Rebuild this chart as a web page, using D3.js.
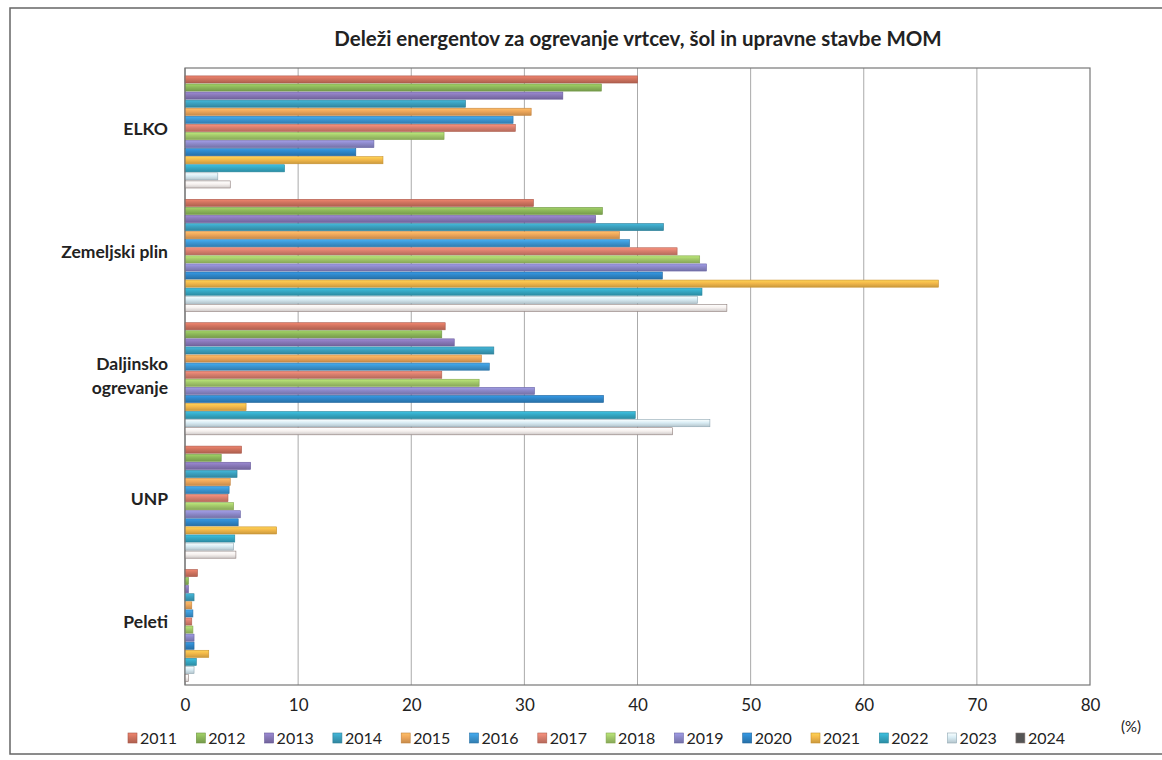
<!DOCTYPE html>
<html>
<head>
<meta charset="utf-8">
<script src="https://cdn.jsdelivr.net/npm/d3@7"></script>
<style>
  body { margin: 0; background: #fff; }
  text { font-family: Lato, "Open Sans", sans-serif; fill: #222; }
</style>
</head>
<body>
<div id="chart"></div>
<script>
// chart size and plot margins
const width = 1162;
const height = 760;
const margin = {left: 185, right: 72, top: 68, bottom: 75};

// data
const categories = ["ELKO", "Zemeljski plin", "Daljinsko ogrevanje", "UNP", "Peleti"];
const years = ["2011","2012","2013","2014","2015","2016","2017","2018","2019","2020","2021","2022","2023","2024"];
const elko      = [40.0, 36.8, 33.4, 24.8, 30.6, 29.0, 29.2, 22.9, 16.7, 15.1, 17.5, 8.8, 2.9, 4.0];
const plin      = [30.8, 36.9, 36.3, 42.3, 38.4, 39.3, 43.5, 45.5, 46.1, 42.2, 66.6, 45.7, 45.3, 47.9];
const daljinsko = [23.0, 22.7, 23.8, 27.3, 26.2, 26.9, 22.7, 26.0, 30.9, 37.0, 5.4, 39.8, 46.4, 43.1];
const unp       = [5.0, 3.2, 5.8, 4.6, 4.0, 3.9, 3.8, 4.3, 4.9, 4.7, 8.1, 4.4, 4.3, 4.5];
const peleti    = [1.1, 0.3, 0.3, 0.8, 0.6, 0.7, 0.6, 0.7, 0.8, 0.8, 2.1, 1.0, 0.8, 0.3];
const xTicks = [0, 10, 20, 30, 40, 50, 60, 70, 80];

const seriesByCat = [elko, plin, daljinsko, unp, peleti];

// colours per year (fill, outline)
const colors = ["#D0735F","#8DB85A","#8878B8","#3BA0BE","#EDA65A","#3C96D2","#D97F6E",
                "#A3C96A","#8C88C8","#2F86C8","#F2B84A","#35A8C4","#D8ECF4","#F7F2F0"];
const strokes = ["#A9574A","#6E9543","#67599A","#2C7F98","#C4823C","#2B74A8","#B0604F",
                 "#82A54C","#6A66A6","#22669E","#C8912E","#26869C","#8FA7B3","#8D7D7A"];

const svg = d3.select("#chart")
  .append("svg")
  .attr("width", width)
  .attr("height", height);

// outer frame
svg.append("rect")
  .attr("x", 10).attr("y", 8)
  .attr("width", width).attr("height", 746)
  .attr("fill", "none")
  .attr("stroke", "#666")
  .attr("stroke-width", 1.5);

// title
svg.append("text")
  .attr("x", 638).attr("y", 46)
  .attr("text-anchor", "middle")
  .attr("font-size", "20.5px")
  .attr("font-weight", "bold")
  .text("Deleži energentov za ogrevanje vrtcev, šol in upravne stavbe MOM");

// scales
const xScale = d3.scaleLinear()
  .domain([0, 80])
  .range([margin.left, width - margin.right]);

const yScale = d3.scaleBand()
  .domain(categories)
  .range([margin.top, height - margin.bottom]);

const yInner = d3.scaleBand()
  .domain(years)
  .range([0, yScale.bandwidth()])
  .paddingInner(0.12)
  .paddingOuter(0.7)
  .align(0.7);

// gradients for a slightly rounded bar look
const defs = svg.append("defs");
colors.forEach((c, i) => {
  const g = defs.append("linearGradient")
    .attr("id", "grad" + i)
    .attr("x1", 0).attr("y1", 0).attr("x2", 0).attr("y2", 1);
  g.append("stop").attr("offset", "0%").attr("stop-color", d3.color(c).brighter(0.4));
  g.append("stop").attr("offset", "45%").attr("stop-color", c);
  g.append("stop").attr("offset", "100%").attr("stop-color", d3.color(c).darker(0.5));
});

// gridlines
svg.append("g")
  .selectAll("line")
  .data(xTicks.slice(1, -1))
  .enter()
  .append("line")
    .attr("x1", d => xScale(d)).attr("x2", d => xScale(d))
    .attr("y1", margin.top).attr("y2", height - margin.bottom)
    .attr("stroke", "#aaa")
    .attr("stroke-width", 1);

// plot border
svg.append("rect")
  .attr("x", margin.left).attr("y", margin.top)
  .attr("width", xScale(80) - margin.left)
  .attr("height", height - margin.bottom - margin.top)
  .attr("fill", "none")
  .attr("stroke", "#777")
  .attr("stroke-width", 1.2);

// bars
const groups = svg.selectAll(".cat")
  .data(categories)
  .enter()
  .append("g")
    .attr("class", "cat")
    .attr("transform", d => `translate(0, ${yScale(d)})`);

groups.selectAll("rect")
  .data((d, ci) => seriesByCat[ci].map((v, i) => ({year: years[i], value: v, i: i})))
  .enter()
  .append("rect")
    .attr("x", xScale(0))
    .attr("y", d => yInner(d.year))
    .attr("width", d => xScale(d.value) - xScale(0))
    .attr("height", yInner.bandwidth())
    .attr("fill", d => `url(#grad${d.i})`)
    .attr("stroke", d => strokes[d.i])
    .attr("stroke-width", 0.6);

// y-axis line
svg.append("line")
  .attr("x1", margin.left).attr("x2", margin.left)
  .attr("y1", margin.top).attr("y2", height - margin.bottom)
  .attr("stroke", "#777");

// category labels
const labels = svg.append("g");
categories.forEach(c => {
  const yc = yScale(c) + yScale.bandwidth() / 2;
  const words = c === "Daljinsko ogrevanje" ? ["Daljinsko", "ogrevanje"] : [c];
  words.forEach((w, k) => {
    labels.append("text")
      .attr("x", 168)
      .attr("y", yc + 5 + (k - (words.length - 1) / 2) * 24)
      .attr("text-anchor", "end")
      .attr("font-size", "17.5px")
      .attr("font-weight", "bold")
      .text(w);
  });
});

// x axis ticks
svg.append("g")
  .attr("transform", `translate(0, ${height - margin.bottom})`)
  .call(d3.axisBottom(xScale).tickValues(xTicks).tickSize(0).tickPadding(14))
  .call(g => g.select(".domain").remove())
  .selectAll("text")
    .attr("font-size", "17px")
    .style("font-family", "Lato, 'Open Sans', sans-serif")
    .attr("fill", "#222");

// unit label
svg.append("text")
  .attr("x", 1131).attr("y", 732)
  .attr("text-anchor", "middle")
  .attr("font-size", "15px")
  .text("(%)");

// legend
const legend = svg.append("g")
  .attr("transform", "translate(128, 744)");

const item = legend.selectAll("g")
  .data(years)
  .enter()
  .append("g")
    .attr("transform", (d, i) => `translate(${i * 68.3}, 0)`);

item.append("rect")
  .attr("x", 0).attr("y", -11)
  .attr("width", 9).attr("height", 10)
  .attr("fill", (d, i) => i === 13 ? "#555" : `url(#grad${i})`)
  .attr("stroke", (d, i) => strokes[i])
  .attr("stroke-width", 0.6);

item.append("text")
  .attr("x", 12).attr("y", 0)
  .attr("font-size", "16px")
  .text(d => d);
</script>
</body>
</html>
